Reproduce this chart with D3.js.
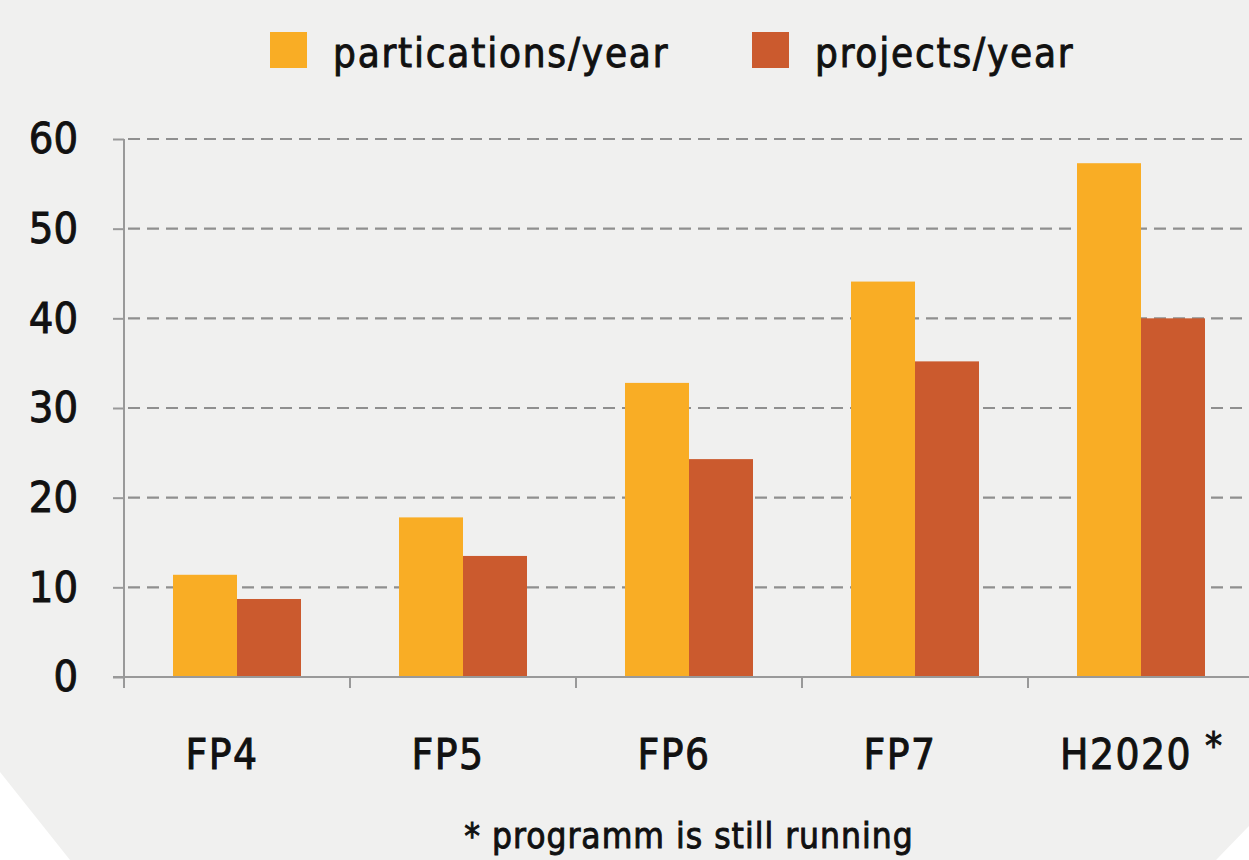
<!DOCTYPE html>
<html>
<head>
<meta charset="utf-8">
<script src="https://cdn.jsdelivr.net/npm/d3@7"></script>
<style>
	body { margin: 0; background: #fff; }
	svg text { font-family: "DejaVu Sans Condensed", "DejaVu Sans", sans-serif; fill: #111; stroke: #111; stroke-width: 0.9px; }
</style>
</head>
<body>
<svg id="chart" width="1249" height="860"></svg>
<script>
"use strict";

var categories = ['FP4', 'FP5', 'FP6', 'FP7', 'H2020'];
var participations = [11.4, 17.8, 32.8, 44.1, 57.3];
var projects = [8.7, 13.5, 24.3, 35.2, 40.0];
var seriesNames = ['partications/year', 'projects/year'];
var seriesColors = ['#f9ad25', '#cb5a2e'];
var yTicks = [0, 10, 20, 30, 40, 50, 60];

var svg = d3.select('#chart');
var W = 1249, H = 860;

// grey card with cut corners
svg.append('path')
	.attr('d', 'M0,0 H' + W + ' V826 L1216,' + H + ' H70 L0,772 Z')
	.attr('fill', '#f0f0ef');

var plotLeft = 124, plotTop = 139, plotBottom = 677;
var x = d3.scaleBand().domain(categories).range([plotLeft, plotLeft + 5 * 226]).paddingInner(0).paddingOuter(0);
var y = d3.scaleLinear().domain([0, 60]).range([plotBottom, plotTop]);

// gridlines
svg.append('g').selectAll('line').data(yTicks.filter(function(d) { return d > 0; })).join('line')
	.attr('x1', plotLeft + 4).attr('x2', W).attr('y1', function(d) { return y(d); }).attr('y2', function(d) { return y(d); })
	.attr('stroke', '#8f8f8f').attr('stroke-width', 2.2).attr('stroke-dasharray', '12,7');

// bars
var barW = 64;
var data = categories.map(function(c, i) { return {cat: c, vals: [participations[i], projects[i]]}; });
var groups = svg.append('g').selectAll('g').data(data).join('g')
	.attr('transform', function(d) { return 'translate(' + (x(d.cat) + x.bandwidth() / 2) + ',0)'; });
groups.selectAll('rect').data(function(d) { return d.vals; }).join('rect')
	.attr('x', function(d, i) { return i === 0 ? -barW : 0; })
	.attr('width', barW)
	.attr('y', function(d) { return y(d); })
	.attr('height', function(d) { return plotBottom - y(d); })
	.attr('fill', function(d, i) { return seriesColors[i]; });

// y axis
var yAxis = svg.append('g').attr('transform', 'translate(' + plotLeft + ',0)')
	.call(d3.axisLeft(y).tickValues(yTicks).tickSize(11).tickPadding(35));
yAxis.select('.domain').attr('stroke', '#999').attr('stroke-width', 2).attr('d', 'M0,' + plotTop + 'V' + plotBottom);
yAxis.selectAll('.tick line').attr('stroke', '#999').attr('stroke-width', 2);
yAxis.selectAll('text').style('font-size', '43px').attr('fill', '#111').attr('dy', '0.32em');

// x axis
var xAxisG = svg.append('g').attr('transform', 'translate(0,' + plotBottom + ')');
xAxisG.append('line').attr('x1', plotLeft - 11).attr('x2', W).attr('y1', 0).attr('y2', 0)
	.attr('stroke', '#999').attr('stroke-width', 2);
xAxisG.selectAll('line.tk').data(categories).join('line').attr('class', 'tk')
	.attr('x1', function(d) { return x(d); }).attr('x2', function(d) { return x(d); })
	.attr('y1', 0).attr('y2', 11).attr('stroke', '#999').attr('stroke-width', 2);
xAxisG.selectAll('text.lbl').data(categories).join('text').attr('class', 'lbl')
	.attr('x', function(d) { return x(d) + x.bandwidth() / 2 - 15; })
	.attr('y', 92).attr('text-anchor', 'middle').style('font-size', '42px').style('letter-spacing', '1.5px')
	.text(function(d) { return d; });
xAxisG.append('text').attr('x', x('H2020') + x.bandwidth() / 2 + 64).attr('y', 82)
	.style('font-size', '38px').text('*');

// legend
var legendX = [270, 752];
var leg = svg.append('g').selectAll('g').data(seriesNames).join('g')
	.attr('transform', function(d, i) { return 'translate(' + legendX[i] + ',32)'; });
leg.append('rect').attr('width', 37).attr('height', 36).attr('fill', function(d, i) { return seriesColors[i]; });
leg.append('text').attr('x', 63).attr('y', 35).style('font-size', '40px').style('letter-spacing', '1.8px')
	.text(function(d) { return d; });

// footnote
svg.append('text').attr('x', 689).attr('y', 848).attr('text-anchor', 'middle')
	.style('font-size', '35px').style('letter-spacing', '1px').text('* programm is still running');
</script>
</body>
</html>
